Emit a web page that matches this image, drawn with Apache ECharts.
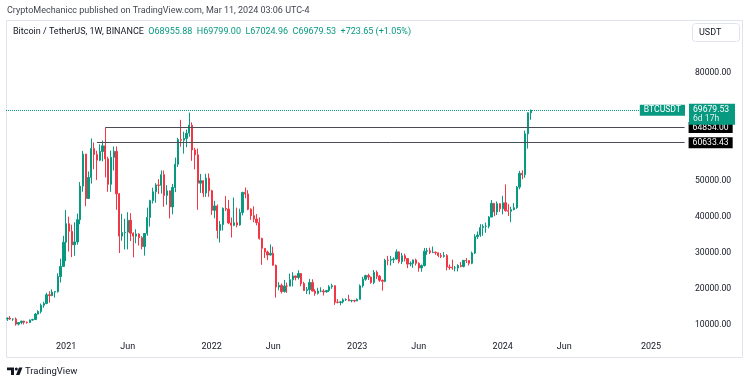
<!DOCTYPE html>
<html>
<head>
<meta charset="utf-8">
<script src="https://cdn.jsdelivr.net/npm/echarts/dist/echarts.min.js"></script>
<style>
html,body{margin:0;padding:0;background:#fff;}
#chart{width:750px;height:385px;}
</style>
</head>
<body>
<div id="chart"></div>
<script>
// ---- data: weekly candles [open, close, low, high], weeks starting Monday ----
const firstWeek = '2020-08-10';
const totalWeeks = 243; // visible time range incl. empty space on the right

const ohlc2020 = [
  [11680,11910,11130,12090],[11910,11650,11360,12470],[11650,11680,11130,11800],[11680,10250,9820,12090],
  [10250,10680,9880,10790],[10680,11080,10200,11180],[11080,10770,10140,11180],[10770,10670,10370,10950],
  [10670,11380,10530,11490],[11380,11500,11200,11730],[11500,13030,11390,13350],[13030,13760,12900,14100],
  [13760,15480,13200,15960],[15480,15970,14800,16480],[15970,18400,15770,18950],[18400,18180,16200,19400],
  [18180,19150,18000,19900],[19150,19270,17600,19420],[19270,23460,19000,24300],[23460,26280,21800,28400],
  [26280,33000,26100,34780]
];
const ohlc2021 = [
  [33000,38150,27730,41950],[38150,36020,30420,40100],[36020,32260,28850,37850],[32260,33090,29240,38530],
  [33090,39260,32300,40950],[39260,48580,37990,49700],[48580,57480,47000,58350],[57480,45140,43000,57530],
  [45140,50970,45000,52640],[50970,59020,49280,61840],[59020,57350,53270,60700],[57350,55780,50300,58420],
  [55780,58200,55500,60200],[58200,59770,55470,61250],[59770,56150,51000,64854],[56150,49070,47000,56760],
  [49070,56580,47000,58450],[56580,58240,52900,59580],[58240,46430,42000,59600],[46430,34700,30000,46650],
  [34700,35660,33400,40900],[35660,35800,31000,39480],[35800,39100,31000,41330],[39100,35500,33340,41060],
  [35500,34700,28800,35750],[34700,35290,32700,36600],[35290,34250,32080,35500],[34250,31780,31020,34680],
  [31780,35400,29280,35500],[35400,39850,34800,42600],[39850,44550,37330,44800],[44550,47000,43750,48140],
  [47000,48900,43960,49390],[48900,48800,46370,50500],[48800,51750,46500,52950],[51750,46000,42830,52900],
  [46000,47260,43370,48850],[47260,42800,39600,47360],[42800,48200,40750,49200],[48200,54660,46900,56500],
  [54660,61530,53900,62000],[61530,61300,59500,67000],[61300,61840,57600,63700],[61840,63270,59400,64270],
  [63270,65500,62300,69000],[65500,58620,55600,66300],[58620,57270,53250,59200],[57270,49400,42000,59000],
  [49400,50100,46700,51950],[50100,46680,45500,50200],[46680,50800,45600,52000],[50800,47300,45600,52100]
];
const ohlc2022 = [
  [47300,41860,40600,47570],[41860,43080,39650,44500],[43080,36280,34000,43500],[36280,37920,32900,38900],
  [37920,42410,36250,42650],[42410,42200,41650,45850],[42200,38350,38000,44750],[38350,37700,34300,39850],
  [37700,38400,37450,45400],[38400,37780,37150,42600],[37780,41260,37600,42320],[41260,46830,40470,47000],
  [46830,46400,45200,48190],[46400,42150,41870,47450],[42150,40380,39200,42420],[40380,39440,38540,42970],
  [39440,38470,37700,40800],[38470,34060,33700,39900],[34060,31300,26700,34240],[31300,30280,28600,31330],
  [30280,29440,28000,30650],[29440,29920,29300,32400],[29920,26570,26550,31750],[26570,20550,17620,26800],
  [20550,21030,19640,21900],[21030,19300,18780,21500],[19300,20850,19000,22530],[20850,20800,18900,21800],
  [20800,22580,20750,24280],[22580,23630,20700,24670],[23630,23180,22400,23650],[23180,24300,22660,25200],
  [24300,21500,20750,24450],[21500,19550,19520,22000],[19550,19830,18600,20560],[19830,21800,18510,22800],
  [21800,19420,19320,22700],[19420,18800,18120,19950],[18800,19420,18470,20350],[19420,19440,19100,20480],
  [19440,19200,18190,19950],[19200,19570,18970,19700],[19570,20630,19160,21080],[20630,20910,20050,21480],
  [20910,16330,15590,21000],[16330,16270,16000,17200],[16270,16430,15480,16700],[16430,16980,16000,17400],
  [16980,17090,16700,17430],[17090,16740,16600,18400],[16740,16830,16300,17000],[16830,16670,16330,16950]
];
const ohlc2023 = [
  [16670,17130,16650,17400],[17130,20880,17120,21260],[20880,22710,20400,23370],[22710,23740,22300,23950],
  [23740,23320,22500,24250],[23320,21780,21450,23440],[21780,24640,21350,25250],[24640,23550,22750,25130],
  [23550,22430,21970,23900],[22430,22150,19550,22600],[22150,28000,21900,28390],[28000,27990,26600,29200],
  [27990,28170,26500,29180],[28170,28330,27200,28800],[28330,30300,28170,31000],[30300,27590,27100,30480],
  [27590,29230,26940,30030],[29230,28440,27650,29820],[28440,26920,25800,28500],[26920,27110,26300,27660],
  [27110,28080,25880,28200],[28080,27120,26500,28450],[27120,25850,24800,27400],[25850,26520,24800,26800],
  [26520,30520,26250,31400],[30520,30600,29500,31400],[30600,30170,29700,31500],[30170,30230,29950,31800],
  [30230,30080,29500,30400],[30080,29300,28860,30100],[29300,29050,28580,30000],[29050,29300,28700,30250],
  [29300,26100,25160,29700],[26100,26000,25350,26800],[26000,25830,25330,28150],[25830,25840,24900,26400],
  [25840,26530,24900,26900],[26530,26250,26000,27480],[26250,27970,26000,28000],[27970,27920,27200,28600],
  [27920,27150,26530,28000],[27150,29990,26900,30400],[29990,34530,29680,35200],[34530,35000,33900,35980],
  [35000,37060,34500,38000],[37060,37390,34800,37980],[37390,37450,35630,38450],[37450,39970,36850,40250],
  [39970,43800,39970,44700],[43800,41380,40200,43800],[41380,43700,40550,44300],[43700,42280,41420,43800]
];
const ohlc2024 = [
  [42280,43950,40750,45900],[43950,41750,41500,49050],[41750,41580,40280,43580],[41580,42030,38550,42850],
  [42030,42580,41880,43880],[42580,48300,42260,48600],[48300,52140,47700,52820],[52140,51730,50520,52980],
  [51730,63110,50900,64000],[63110,68960,59000,69000],[68955.88,69679.53,67024.96,69799.00]
];

const lastPrice = 69679.53;
const lastChange = 723.65;
const lastChangePct = 1.05;
const levelHigh = 64854.00;
const levelHighStart = '2021-04-12';
const levelLow = 60633.43;
const levelLowStart = '2021-03-22';
const countdown = '6d 17h';
const priceTickLabels = [10000, 20000, 30000, 40000, 50000, 80000];

// ---- build ----
const candles = [].concat(ohlc2020, ohlc2021, ohlc2022, ohlc2023, ohlc2024);
const dates = [];
{
  const p = firstWeek.split('-').map(Number);
  const t0 = Date.UTC(p[0], p[1] - 1, p[2]);
  for (let i = 0; i < totalWeeks; i++) {
    dates.push(new Date(t0 + i * 7 * 86400000).toISOString().slice(0, 10));
  }
}
const lastIdx = dates.length - 1;
const last = candles[candles.length - 1];

const UP = '#089981', DOWN = '#f23645', TXT = '#131722';
const FONT = 'Roboto, "Noto Sans", sans-serif';

const chart = echarts.init(document.getElementById('chart'), null, {renderer: 'canvas'});

const boxLabel = (txt) => ({
  show: true, position: 'end', distance: 4, formatter: txt,
  backgroundColor: '#000', color: '#fff', padding: [1, 4, 1, 4],
  fontSize: 8.6, fontFamily: FONT, lineHeight: 9
});
const levelStyle = {color: '#4a4d57', width: 1, type: 'solid'};

const option = {
  animation: false,
  backgroundColor: '#ffffff',
  textStyle: {fontFamily: FONT},
  grid: {left: 6, right: 64, top: 22.6, bottom: 45.6},
  xAxis: {
    type: 'category', data: dates, boundaryGap: true,
    axisLine: {show: false}, axisTick: {show: false}, splitLine: {show: false},
    axisLabel: {
      color: TXT, fontSize: 9, margin: 3, fontFamily: FONT,
      interval: (idx, val) => {
        const m = val.slice(5, 7), d = +val.slice(8, 10);
        return (m === '01' || m === '06') && d <= 7;
      },
      formatter: (val) => val.slice(5, 7) === '01' ? val.slice(0, 4) : 'Jun'
    }
  },
  yAxis: {
    type: 'value', position: 'right', min: 6000, max: 94000, interval: 2000,
    axisLine: {show: false}, axisTick: {show: false}, splitLine: {show: false},
    axisLabel: {
      color: TXT, fontSize: 8.6, margin: 9, align: 'left', fontFamily: FONT,
      formatter: (v) => priceTickLabels.includes(v) ? v.toFixed(2) : ''
    }
  },
  series: [{
    type: 'candlestick',
    data: candles,
    barWidth: 1.8,
    itemStyle: {color: UP, color0: DOWN, borderColor: UP, borderColor0: DOWN, borderWidth: 1},
    markLine: {
      silent: true, symbol: ['none', 'none'], animation: false,
      data: [
        [
          {coord: [levelHighStart, levelHigh], lineStyle: levelStyle, label: boxLabel(levelHigh.toFixed(2))},
          {coord: [dates[lastIdx], levelHigh], lineStyle: levelStyle, label: boxLabel(levelHigh.toFixed(2))}
        ],
        [
          {coord: [levelLowStart, levelLow], lineStyle: levelStyle, label: boxLabel(levelLow.toFixed(2))},
          {coord: [dates[lastIdx], levelLow], lineStyle: levelStyle, label: boxLabel(levelLow.toFixed(2))}
        ],
        {
          yAxis: lastPrice,
          lineStyle: {color: UP, width: 1, type: 'dotted'},
          label: {
            show: true, position: 'end', distance: 3,
            formatter: '{s| }\n{a|' + lastPrice.toFixed(2) + '}\n{b|' + countdown + '}',
            rich: {
              s: {fontSize: 1, lineHeight: 8, height: 8},
              a: {color: '#fff', backgroundColor: UP, width: 38, padding: [1, 4, 0, 4], lineHeight: 10, height: 10, fontSize: 8.6, fontFamily: FONT},
              b: {color: 'rgba(255,255,255,0.85)', backgroundColor: UP, width: 38, padding: [0, 4, 1, 4], lineHeight: 10, height: 10, fontSize: 8.6, fontFamily: FONT}
            }
          }
        },
        {
          yAxis: lastPrice,
          lineStyle: {color: 'rgba(0,0,0,0)', width: 1},
          label: {
            show: true, position: 'insideEnd', distance: 1, formatter: 'BTCUSDT',
            backgroundColor: UP, color: '#fff', padding: [1, 4, 1, 4], fontSize: 8.6, fontFamily: FONT, lineHeight: 9
          }
        }
      ]
    }
  }],
  graphic: [
    {type: 'rect', shape: {x: 6.5, y: 20.5, width: 736, height: 337}, style: {fill: 'none', stroke: '#e0e3eb', lineWidth: 1}, z: -1, silent: true},
    {type: 'text', x: 7, y: 6, style: {text: 'CryptoMechanicc published on TradingView.com, Mar 11, 2024 03:06 UTC-4', fill: '#434651', font: '9px ' + FONT}},
    {type: 'text', x: 13, y: 27, style: {
      text: '{n|Bitcoin / TetherUS, 1W, BINANCE}  {g|O' + last[0].toFixed(2) + '  H' + last[3].toFixed(2) + '  L' + last[2].toFixed(2) + '  C' + last[1].toFixed(2) + '  +' + lastChange.toFixed(2) + ' (+' + lastChangePct.toFixed(2) + '%)}',
      font: '9px ' + FONT,
      rich: {n: {fill: TXT, font: '9px ' + FONT}, g: {fill: UP, font: '9px ' + FONT}}
    }},
    {type: 'rect', shape: {x: 692.5, y: 23.5, width: 47, height: 18, r: 3}, style: {fill: '#fff', stroke: '#e0e3eb', lineWidth: 1}},
    {type: 'text', x: 699, y: 28, style: {text: 'USDT', fill: TXT, font: '9px ' + FONT}},
    // TradingView logo
    {type: 'polygon', shape: {points: [[7,367.5],[14,367.5],[14,375],[11,375],[11,370.3],[7,370.3]]}, style: {fill: TXT}},
    {type: 'circle', shape: {cx: 16.3, cy: 369, r: 1.5}, style: {fill: TXT}},
    {type: 'polygon', shape: {points: [[19,367.5],[22.5,367.5],[19.5,375],[16,375]]}, style: {fill: TXT}},
    {type: 'text', x: 25, y: 366.5, style: {text: 'TradingView', fill: TXT, font: '9.5px ' + FONT}}
  ]
};
chart.setOption(option);
</script>
</body>
</html>
